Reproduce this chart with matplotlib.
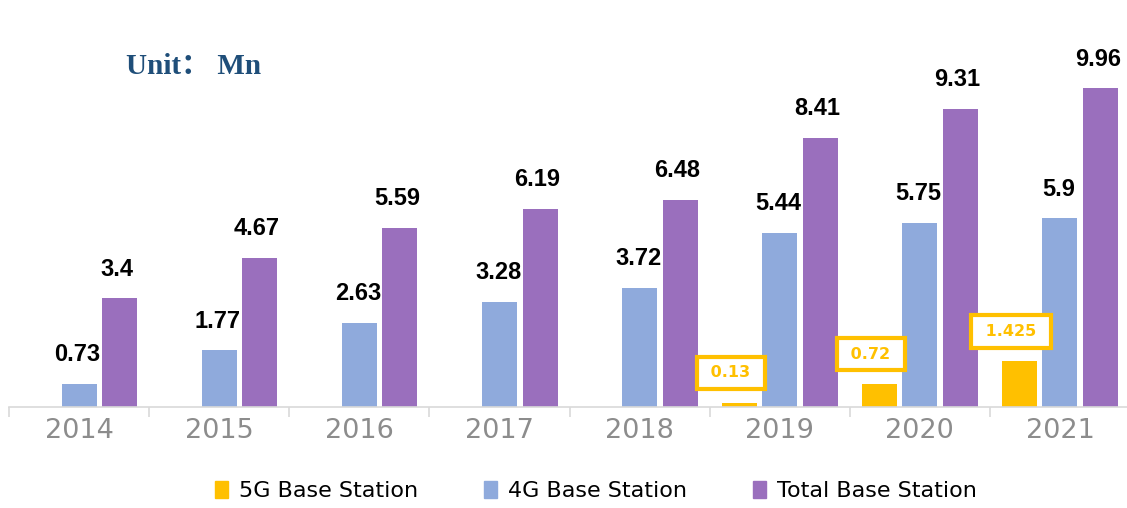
import matplotlib.pyplot as plt
import numpy as np
from matplotlib.patches import Patch
from matplotlib import font_manager

years = ['2014', '2015', '2016', '2017', '2018', '2019', '2020', '2021']
bs_5g = [0, 0, 0, 0, 0, 0.13, 0.72, 1.425]
bs_4g = [0.73, 1.77, 2.63, 3.28, 3.72, 5.44, 5.75, 5.9]
bs_total = [3.4, 4.67, 5.59, 6.19, 6.48, 8.41, 9.31, 9.96]
labels_5g = ['', '', '', '', '', '0.13', '0.72', '1.425']

c5 = '#FFC000'
c4 = '#8FAADC'
ct = '#9A6FBD'

# pick the regular-width Liberation Sans Bold file (avoid the Narrow variant)
val_font = font_manager.FontProperties(family='DejaVu Sans', weight='bold', size=15)
for f in font_manager.fontManager.ttflist:
    if f.name == 'Liberation Sans' and f.weight in (700, 'bold') and f.style == 'normal' \
            and 'Narrow' not in f.fname:
        val_font = font_manager.FontProperties(fname=f.fname, size=17)
        break

fig = plt.figure(figsize=(11.27, 5.08), dpi=100)
ax = fig.add_axes([9 / 1127, 101 / 508, 1121 / 1127, 352 / 508])

x = np.arange(len(years))
w = 0.25
off = 0.29
ax.bar(x - off, bs_5g, w, color=c5)
ax.bar(x, bs_4g, w, color=c4)
ax.bar(x + off, bs_total, w, color=ct)

ax.set_xlim(-0.5, len(years) - 0.5)
ax.set_ylim(0, 11)

# value labels
for i in range(len(years)):
    ax.annotate(f'{bs_4g[i]:g}', (x[i], bs_4g[i]), xytext=(-1, 21), textcoords='offset points',
                ha='center', va='center', color='black', fontproperties=val_font)
    ax.annotate(f'{bs_total[i]:g}', (x[i] + off, bs_total[i]), xytext=(-2, 21), textcoords='offset points',
                ha='center', va='center', color='black', fontproperties=val_font)
    if labels_5g[i]:
        ax.annotate(' ' + labels_5g[i] + ' ', (x[i] - off, bs_5g[i]), xytext=(-6, 21.5), textcoords='offset points',
                    ha='center', va='center', fontsize=11.5, fontweight='bold', color=c5,
                    family='DejaVu Sans',
                    bbox=dict(boxstyle='square,pad=0.55', fc='white', ec=c5, lw=3))

# axis styling
for s in ['left', 'right', 'top']:
    ax.spines[s].set_visible(False)
ax.spines['bottom'].set_color('#d9d9d9')
ax.spines['bottom'].set_linewidth(1.2)
ax.set_yticks([])
ax.set_xticks(x)
ax.set_xticklabels(years, fontsize=19.5, color='#8c8c8c')
ax.tick_params(axis='x', which='major', length=0, pad=8)
ax.set_xticks(np.arange(-0.5, len(years)), minor=True)
ax.tick_params(axis='x', which='minor', length=7, color='#d9d9d9', width=1.2)

fig.text(126 / 1127, 1 - 67 / 508, 'Unit： Mn', fontsize=21, fontweight='bold', color='#1F4E79',
         family=['Liberation Serif', 'Noto Sans CJK SC'], va='center', ha='left')

handles = [Patch(color=c5, label='5G Base Station'),
           Patch(color=c4, label='4G Base Station'),
           Patch(color=ct, label='Total Base Station')]
fig.legend(handles=handles, loc='center', bbox_to_anchor=(596 / 1127, 1 - 491 / 508), ncol=3,
           frameon=False, fontsize=16, handlelength=0.55, handleheight=0.8, handletextpad=0.5,
           columnspacing=3.0)

fig.savefig('out.png', dpi=100)
